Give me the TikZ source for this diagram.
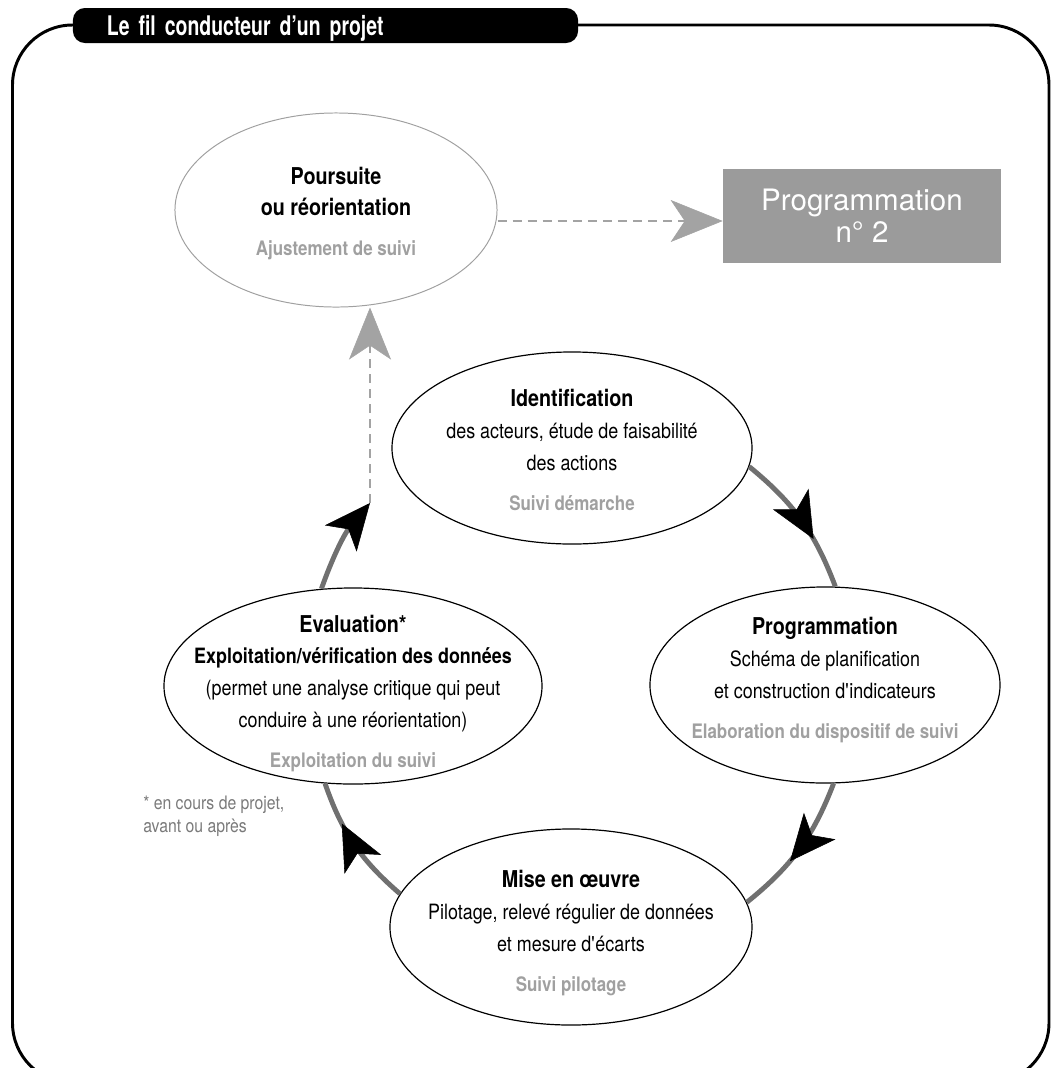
\documentclass[tikz,border=0pt]{standalone}
\usepackage{fontspec}
\setmainfont{TeX Gyre Heros}[FakeStretch=0.85]
\newfontfamily\titlefont{TeX Gyre Heros}[FakeStretch=0.72]
\newfontfamily\widefont{TeX Gyre Heros}
\usetikzlibrary{shapes.geometric,arrows.meta,decorations.markings}

\definecolor{arcgray}{HTML}{707070}
\definecolor{dashgray}{HTML}{A3A3A3}
\definecolor{softgray}{HTML}{A0A0A0}
\definecolor{notegray}{HTML}{7A7A7A}
\definecolor{boxgray}{HTML}{9B9B9B}

\newcommand\phasehead[1]{{\bfseries\fontsize{16.5pt}{22.5pt}\selectfont #1}}
\newcommand\phasenote[1]{{\color{softgray}\bfseries\fontsize{14.2pt}{22.5pt}\selectfont #1}}

\begin{document}
\begin{tikzpicture}[x=0.025cm,y=-0.025cm,
    frame/.style={line width=2.1pt,rounded corners=1.5cm},
    tabbox/.style={fill=black,rounded corners=0.3cm,minimum width=12.625cm,
      minimum height=0.875cm,text width=10.925cm,inner xsep=0.85cm,inner ysep=0pt,
      text depth=0pt,align=left,text=white,
      font=\fontsize{19.2pt}{20pt}\titlefont\bfseries},
    phase/.style={ellipse,draw,line width=0.85pt,inner sep=0pt},
    phasetext/.style={align=center,inner sep=0pt,
      font=\fontsize{15pt}{22.5pt}\selectfont},
    nextbox/.style={fill=boxgray,minimum width=6.95cm,minimum height=2.35cm,
      inner sep=0pt,align=center,text=white,
      font=\fontsize{21pt}{22.8pt}\widefont},
    note/.style={align=left,inner sep=0pt,text=notegray,
      font=\fontsize{13.2pt}{16.4pt}\selectfont},
    cyclearrow/.style={draw=arcgray,line width=3.5pt,postaction={decorate},
      decoration={markings,mark=at position #1 with
        {\arrow{Stealth[color=black,fill=black,length=1.15cm,width=1.03cm,inset=0.3cm,line width=0.4pt]}}}},
    backarrow/.style={draw=arcgray,line width=3.5pt,
      -{Stealth[color=black,fill=black,length=1.15cm,width=1.03cm,inset=0.3cm,line width=0.4pt]}},
    dasharrow/.style={draw=dashgray,line width=2.1pt,dash pattern=on 6.4pt off 4.3pt,
      -{Stealth[color=dashgray,fill=dashgray,length=1.3cm,width=1.05cm,inset=0.35cm,line width=0.4pt]}},
  ]

  \useasboundingbox (0,0) rectangle (1057,1068);
  \clip (0,0) rectangle (1057,1068);

  % frame and title
  \draw[frame] (12.5,1083) -- (12.5,25) -- (1049,25) -- (1049,1083) -- cycle;
  \node[tabbox] (tab) at (325.5,25.5) {Le fil conducteur d’un projet};

  % the cycle
  \node[phase,minimum width=9cm,minimum height=4.8cm] (ident) at (572,448) {};
  \node[phasetext,yshift=-0.05cm] (identtext) at (ident)
    {\phasehead{Identification}\\
     des acteurs, étude de faisabilité\\
     des actions\\[6pt]
     \phasenote{Suivi démarche}};

  \node[phase,minimum width=8.75cm,minimum height=4.9cm] (prog) at (825,685) {};
  \node[phasetext,yshift=0.12cm] (progtext) at (prog)
    {\phasehead{Programmation}\\
     Schéma de planification\\
     et construction d\textquotesingle indicateurs\\[6pt]
     \phasenote{Elaboration du dispositif de suivi}};

  \node[phase,minimum width=9.05cm,minimum height=4.9cm] (mise) at (571,927) {};
  \node[phasetext,yshift=-0.15cm] (misetext) at (mise)
    {\phasehead{Mise en œuvre}\\
     Pilotage, relevé régulier de données\\
     et mesure d\textquotesingle écarts\\[6pt]
     \phasenote{Suivi pilotage}};

  \node[phase,minimum width=9.45cm,minimum height=4.9cm] (eval) at (353,686) {};
  \node[phasetext,yshift=-0.18cm] (evaltext) at (eval)
    {\phasehead{Evaluation*}\\
     \textbf{Exploitation/vérification des données}\\
     (permet une analyse critique qui peut\\
     conduire à une réorientation)\\[6pt]
     \phasenote{Exploitation du suivi}};

  \node[note,anchor=north west] (asterisk) at (143,796)
    {* en cours de projet,\\ avant ou après};

  % what comes after
  \node[phase,draw=softgray,line width=0.7pt,minimum width=8.05cm,minimum height=4.85cm] (pours) at (336,210) {};
  \node[phasetext,yshift=-0.09cm] (pourstext) at (pours)
    {\phasehead{Poursuite}\\
     \phasehead{ou réorientation}\\[6pt]
     \phasenote{Ajustement de suivi}};

  \node[nextbox] (prog2) at (862,216) {Programmation\\ n° 2};

  \draw[cyclearrow=0.65] (ident.-6.5) to[bend left=15] (prog.84);
  \draw[cyclearrow=0.6] (prog.-85) to[bend left=15] (mise.8);
  \draw[cyclearrow=0.68] (mise.169) to[bend left=15] (eval.-106);

  \coordinate (dashfoot) at (370,503);
  \draw[backarrow] (eval.108) to[bend left=10] (dashfoot);
  \draw[dasharrow] (dashfoot) -- (dashfoot |- pours.south);
  \draw[dasharrow] ([yshift=-0.125cm]pours.east |- prog2) -- ([yshift=-0.125cm]prog2.west);

\end{tikzpicture}
\end{document}
